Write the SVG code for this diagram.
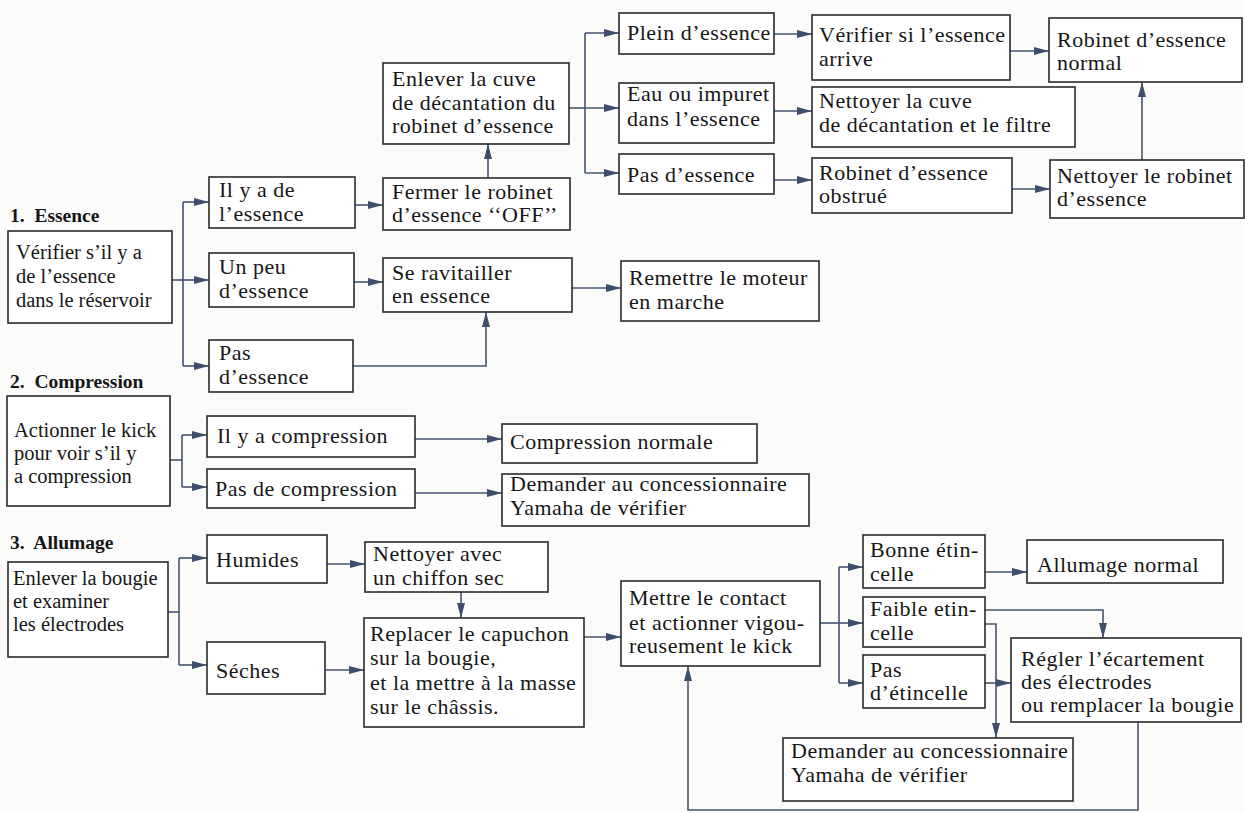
<svg xmlns="http://www.w3.org/2000/svg" width="1245" height="813" viewBox="0 0 1245 813">
<style>
.b{fill:#fff;stroke:#2a2a2a;stroke-width:1.6}
.t{font-family:"Liberation Serif","Times New Roman",serif;font-size:22px;letter-spacing:0.5px;fill:#161616}
.s{font-size:20.5px;letter-spacing:0}
.h{font-family:"Liberation Serif","Times New Roman",serif;font-size:19.5px;font-weight:bold;fill:#161616;white-space:pre}
.c{fill:none;stroke:#46546e;stroke-width:1.6}
</style>
<defs>
<marker id="a" markerUnits="userSpaceOnUse" markerWidth="16" markerHeight="10" refX="15" refY="4.5" orient="auto">
<path d="M0,0.5 L15,4.5 L0,8.5 z" fill="#3d4d6b"/>
</marker>
</defs>
<rect width="1245" height="813" fill="#fbfbfa"/>
<g id="headers">
<text class="h" x="10" y="222" xml:space="preserve">1.  Essence</text>
<text class="h" x="10" y="388" xml:space="preserve">2.  Compression</text>
<text class="h" x="10" y="549" xml:space="preserve">3.  Allumage</text>
</g>
<g id="connectors">
<path class="c" d="M172,280 H183"/>
<path class="c" d="M183,202 V366"/>
<path class="c" d="M183,202 H209" marker-end="url(#a)"/>
<path class="c" d="M183,280 H209" marker-end="url(#a)"/>
<path class="c" d="M183,366 H209" marker-end="url(#a)"/>
<path class="c" d="M355,205 H383" marker-end="url(#a)"/>
<path class="c" d="M354,282 H383" marker-end="url(#a)"/>
<path class="c" d="M353,366 H486 V312" marker-end="url(#a)"/>
<path class="c" d="M488,178 V144" marker-end="url(#a)"/>
<path class="c" d="M569,108 H585"/>
<path class="c" d="M585,33 V173"/>
<path class="c" d="M585,33 H619" marker-end="url(#a)"/>
<path class="c" d="M585,108 H619" marker-end="url(#a)"/>
<path class="c" d="M585,173 H619" marker-end="url(#a)"/>
<path class="c" d="M774,34 H812" marker-end="url(#a)"/>
<path class="c" d="M774,111 H812" marker-end="url(#a)"/>
<path class="c" d="M774,180 H812" marker-end="url(#a)"/>
<path class="c" d="M1010,51 H1049" marker-end="url(#a)"/>
<path class="c" d="M1012,189 H1050" marker-end="url(#a)"/>
<path class="c" d="M1142,160 V82" marker-end="url(#a)"/>
<path class="c" d="M572,288 H621" marker-end="url(#a)"/>
<path class="c" d="M170,460 H182"/>
<path class="c" d="M182,435 V487"/>
<path class="c" d="M182,435 H207" marker-end="url(#a)"/>
<path class="c" d="M182,487 H207" marker-end="url(#a)"/>
<path class="c" d="M415,439 H502" marker-end="url(#a)"/>
<path class="c" d="M415,493 H502" marker-end="url(#a)"/>
<path class="c" d="M168,612 H179"/>
<path class="c" d="M179,558 V665"/>
<path class="c" d="M179,558 H207" marker-end="url(#a)"/>
<path class="c" d="M179,665 H207" marker-end="url(#a)"/>
<path class="c" d="M327,564 H365" marker-end="url(#a)"/>
<path class="c" d="M325,670 H364" marker-end="url(#a)"/>
<path class="c" d="M461,592 V618" marker-end="url(#a)"/>
<path class="c" d="M584,637 H621" marker-end="url(#a)"/>
<path class="c" d="M820,623 H839"/>
<path class="c" d="M839,567 V683"/>
<path class="c" d="M839,567 H863" marker-end="url(#a)"/>
<path class="c" d="M839,623 H863" marker-end="url(#a)"/>
<path class="c" d="M839,683 H863" marker-end="url(#a)"/>
<path class="c" d="M985,572 H1027" marker-end="url(#a)"/>
<path class="c" d="M985,610 H1103 V638" marker-end="url(#a)"/>
<path class="c" d="M985,624 H996 V738" marker-end="url(#a)"/>
<path class="c" d="M985,683 H1011" marker-end="url(#a)"/>
<path class="c" d="M1138,722 V810 H688 V666" marker-end="url(#a)"/>
</g>
<g id="n1"><rect class="b" x="8" y="231" width="164" height="92"/><text class="t s"><tspan x="16" y="259">Vérifier s’il y a</tspan><tspan x="16" y="283">de l’essence</tspan><tspan x="16" y="307">dans le réservoir</tspan></text></g>
<g id="n2"><rect class="b" x="209" y="177" width="146" height="51"/><text class="t"><tspan x="219" y="197">Il y a de</tspan><tspan x="219" y="221">l’essence</tspan></text></g>
<g id="n3"><rect class="b" x="209" y="253" width="145" height="54"/><text class="t"><tspan x="219" y="274">Un peu</tspan><tspan x="219" y="298">d’essence</tspan></text></g>
<g id="n4"><rect class="b" x="209" y="340" width="144" height="52"/><text class="t"><tspan x="219" y="360">Pas</tspan><tspan x="219" y="384">d’essence</tspan></text></g>
<g id="n5"><rect class="b" x="383" y="178" width="187" height="52"/><text class="t"><tspan x="392" y="199">Fermer le robinet</tspan><tspan x="392" y="222">d’essence ‘‘OFF’’</tspan></text></g>
<g id="n6"><rect class="b" x="383" y="63" width="186" height="81"/><text class="t"><tspan x="392" y="86">Enlever la cuve</tspan><tspan x="392" y="110">de décantation du</tspan><tspan x="392" y="133">robinet d’essence</tspan></text></g>
<g id="n7"><rect class="b" x="619" y="13" width="155" height="41"/><text class="t"><tspan x="627" y="40">Plein d’essence</tspan></text></g>
<g id="n8"><rect class="b" x="619" y="83" width="155" height="60"/><text class="t"><tspan x="627" y="101">Eau ou impuret</tspan><tspan x="627" y="126">dans l’essence</tspan></text></g>
<g id="n9"><rect class="b" x="619" y="154" width="155" height="40"/><text class="t"><tspan x="627" y="182">Pas d’essence</tspan></text></g>
<g id="n10"><rect class="b" x="812" y="15" width="198" height="65"/><text class="t"><tspan x="819" y="42">Vérifier si l’essence</tspan><tspan x="819" y="66">arrive</tspan></text></g>
<g id="n11"><rect class="b" x="1049" y="18" width="193" height="64"/><text class="t"><tspan x="1057" y="47">Robinet d’essence</tspan><tspan x="1057" y="70">normal</tspan></text></g>
<g id="n12"><rect class="b" x="812" y="87" width="263" height="60"/><text class="t"><tspan x="819" y="108">Nettoyer la cuve</tspan><tspan x="819" y="132">de décantation et le filtre</tspan></text></g>
<g id="n13"><rect class="b" x="812" y="158" width="200" height="55"/><text class="t"><tspan x="819" y="180">Robinet d’essence</tspan><tspan x="819" y="203">obstrué</tspan></text></g>
<g id="n14"><rect class="b" x="1050" y="160" width="194" height="58"/><text class="t"><tspan x="1057" y="183">Nettoyer le robinet</tspan><tspan x="1057" y="206">d’essence</tspan></text></g>
<g id="n15"><rect class="b" x="383" y="258" width="189" height="54"/><text class="t"><tspan x="392" y="280">Se ravitailler</tspan><tspan x="392" y="303">en essence</tspan></text></g>
<g id="n16"><rect class="b" x="621" y="261" width="198" height="60"/><text class="t"><tspan x="629" y="285">Remettre le moteur</tspan><tspan x="629" y="309">en marche</tspan></text></g>
<g id="n17"><rect class="b" x="7" y="396" width="163" height="110"/><text class="t s"><tspan x="14" y="437">Actionner le kick</tspan><tspan x="14" y="460">pour voir s’il y</tspan><tspan x="14" y="483">a compression</tspan></text></g>
<g id="n18"><rect class="b" x="207" y="416" width="208" height="41"/><text class="t"><tspan x="217" y="443">Il y a compression</tspan></text></g>
<g id="n19"><rect class="b" x="207" y="469" width="208" height="39"/><text class="t"><tspan x="215" y="496">Pas de compression</tspan></text></g>
<g id="n20"><rect class="b" x="502" y="424" width="255" height="39"/><text class="t"><tspan x="510" y="449">Compression normale</tspan></text></g>
<g id="n21"><rect class="b" x="502" y="474" width="307" height="52"/><text class="t"><tspan x="510" y="491">Demander au concessionnaire</tspan><tspan x="510" y="515">Yamaha de vérifier</tspan></text></g>
<g id="n22"><rect class="b" x="8" y="562" width="160" height="95"/><text class="t s"><tspan x="13" y="585">Enlever la bougie</tspan><tspan x="13" y="608">et examiner</tspan><tspan x="13" y="631">les électrodes</tspan></text></g>
<g id="n23"><rect class="b" x="207" y="535" width="120" height="48"/><text class="t"><tspan x="216" y="567">Humides</tspan></text></g>
<g id="n24"><rect class="b" x="207" y="642" width="118" height="52"/><text class="t"><tspan x="216" y="678">Séches</tspan></text></g>
<g id="n25"><rect class="b" x="365" y="542" width="183" height="50"/><text class="t"><tspan x="373" y="561">Nettoyer avec</tspan><tspan x="373" y="585">un chiffon sec</tspan></text></g>
<g id="n26"><rect class="b" x="364" y="618" width="220" height="109"/><text class="t"><tspan x="370" y="641">Replacer le capuchon</tspan><tspan x="370" y="665">sur la bougie,</tspan><tspan x="370" y="690">et la mettre à la masse</tspan><tspan x="370" y="714">sur le châssis.</tspan></text></g>
<g id="n27"><rect class="b" x="621" y="581" width="199" height="85"/><text class="t"><tspan x="629" y="605">Mettre le contact</tspan><tspan x="629" y="630">et actionner vigou-</tspan><tspan x="629" y="653">reusement le kick</tspan></text></g>
<g id="n28"><rect class="b" x="863" y="535" width="122" height="53"/><text class="t"><tspan x="870" y="557">Bonne étin-</tspan><tspan x="870" y="581">celle</tspan></text></g>
<g id="n29"><rect class="b" x="1027" y="540" width="196" height="43"/><text class="t"><tspan x="1037" y="572">Allumage normal</tspan></text></g>
<g id="n30"><rect class="b" x="863" y="597" width="122" height="50"/><text class="t"><tspan x="870" y="616">Faible etin-</tspan><tspan x="870" y="640">celle</tspan></text></g>
<g id="n31"><rect class="b" x="863" y="655" width="122" height="53"/><text class="t"><tspan x="870" y="677">Pas</tspan><tspan x="870" y="700">d’étincelle</tspan></text></g>
<g id="n32"><rect class="b" x="1011" y="638" width="230" height="84"/><text class="t"><tspan x="1021" y="666">Régler l’écartement</tspan><tspan x="1021" y="689">des électrodes</tspan><tspan x="1021" y="712">ou remplacer la bougie</tspan></text></g>
<g id="n33"><rect class="b" x="783" y="738" width="290" height="63"/><text class="t"><tspan x="791" y="758">Demander au concessionnaire</tspan><tspan x="791" y="782">Yamaha de vérifier</tspan></text></g>
</svg>
